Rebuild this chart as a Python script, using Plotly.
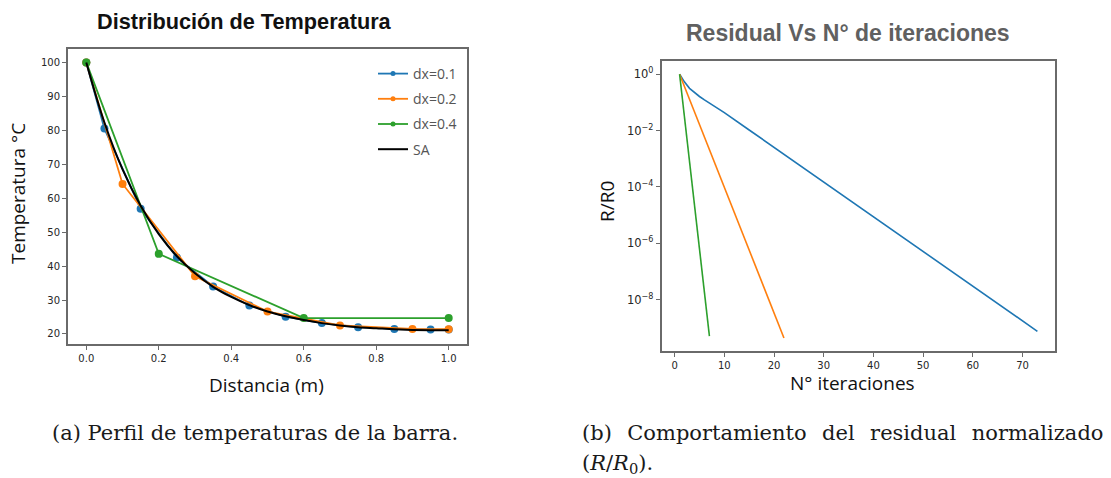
import plotly.graph_objects as go

# ---- Temperature profile along the bar ----
x_dx01 = [0.0, 0.05, 0.15, 0.25, 0.35, 0.45, 0.55, 0.65, 0.75, 0.85, 0.95, 1.0]
T_dx01 = [100.0, 80.5, 56.9, 42.5, 34.0, 28.4, 25.1, 23.2, 22.0, 21.5, 21.3, 21.3]

x_dx02 = [0.0, 0.1, 0.3, 0.5, 0.7, 0.9, 1.0]
T_dx02 = [100.0, 64.2, 37.0, 26.6, 22.5, 21.5, 21.4]

x_dx04 = [0.0, 0.2, 0.6, 1.0]
T_dx04 = [100.0, 43.6, 24.7, 24.7]

x_sa = [0.0, 0.05, 0.1, 0.15, 0.2, 0.25, 0.3, 0.35, 0.4, 0.45, 0.5,
        0.55, 0.6, 0.65, 0.7, 0.75, 0.8, 0.85, 0.9, 0.95, 1.0]
T_sa = [100.0, 82.3, 68.5, 57.8, 49.4, 42.9, 37.9, 33.9, 30.9, 28.5, 26.6,
        25.2, 24.1, 23.2, 22.5, 22.0, 21.7, 21.4, 21.2, 21.1, 21.1]

temp_ticks = [20, 30, 40, 50, 60, 70, 80, 90, 100]
dist_ticks = [0.0, 0.2, 0.4, 0.6, 0.8, 1.0]

# ---- Normalised residual per iteration ----
it_dx01 = [1, 2, 3, 4, 5, 6, 7, 8, 9, 10, 15, 20, 30, 40, 50, 60, 70, 73]
res_dx01 = [1.0, 0.525, 0.316, 0.219, 0.162, 0.123, 0.0955, 0.0741, 0.0575,
            0.0434, 1.047e-2, 2.535e-3, 1.483e-4, 8.67e-6, 5.07e-7,
            2.965e-8, 1.734e-9, 7.41e-10]

it_dx02 = list(range(1, 23))
res_dx02 = [1.0, 0.358, 0.128, 4.59e-2, 1.64e-2, 5.88e-3, 2.10e-3, 7.53e-4,
            2.70e-4, 9.65e-5, 3.46e-5, 1.24e-5, 4.43e-6, 1.59e-6, 5.68e-7,
            2.03e-7, 7.28e-8, 2.61e-8, 9.33e-9, 3.34e-9, 1.20e-9, 4.3e-10]

it_dx04 = [1, 2, 3, 4, 5, 6, 7]
res_dx04 = [1.0, 2.8e-2, 7.9e-4, 2.2e-5, 6.3e-7, 1.8e-8, 5.0e-10]

res_tickvals = [1e0, 1e-2, 1e-4, 1e-6, 1e-8]
res_ticktext = ["10<sup>0</sup>", "10<sup>\u22122</sup>", "10<sup>\u22124</sup>",
                "10<sup>\u22126</sup>", "10<sup>\u22128</sup>"]
iter_ticks = [0, 10, 20, 30, 40, 50, 60, 70]

labels = ["dx=0.1", "dx=0.2", "dx=0.4"]
colors = ["#1f77b4", "#ff7f0e", "#2ca02c"]

W, H = 1111, 478
frame = "#6a6a6a"
tick_font = dict(family="DejaVu Sans", size=10, color="#262626")
label_font = dict(family="Open Sans", size=19, color="#111111")
caption_font = dict(family="DejaVu Serif", size=21, color="#1a1a1a")

fig = go.Figure()

# left panel: numerical profiles and analytic solution
for xs, ys, c in zip([x_dx01, x_dx02, x_dx04], [T_dx01, T_dx02, T_dx04], colors):
    fig.add_trace(go.Scatter(x=xs, y=ys, mode="lines+markers",
                             line=dict(color=c, width=1.8),
                             marker=dict(color=c, size=8),
                             xaxis="x", yaxis="y", showlegend=False))
fig.add_trace(go.Scatter(x=x_sa, y=T_sa, mode="lines",
                         line=dict(color="black", width=2, shape="spline"),
                         xaxis="x", yaxis="y", showlegend=False))

# legend entries (small dots like the line samples)
for name, c in zip(labels, colors):
    fig.add_trace(go.Scatter(x=[None], y=[None], mode="lines+markers", name=name,
                             line=dict(color=c, width=1.8),
                             marker=dict(color=c, size=5),
                             legendgroup=name, xaxis="x", yaxis="y"))
fig.add_trace(go.Scatter(x=[None], y=[None], mode="lines", name="SA",
                         line=dict(color="black", width=2),
                         legendgroup="SA", xaxis="x", yaxis="y"))

# right panel: residual history
for xs, ys, c in zip([it_dx01, it_dx02, it_dx04], [res_dx01, res_dx02, res_dx04], colors):
    fig.add_trace(go.Scatter(x=xs, y=ys, mode="lines",
                             line=dict(color=c, width=1.6),
                             xaxis="x2", yaxis="y2", showlegend=False))

axis_common = dict(showline=True, mirror=True, linecolor=frame, linewidth=2,
                   ticks="outside", ticklen=4, tickwidth=1, tickcolor=frame,
                   showgrid=False, zeroline=False)

fig.update_layout(
    width=W, height=H,
    margin=dict(l=0, r=0, t=0, b=0),
    paper_bgcolor="white", plot_bgcolor="white",
    xaxis=dict(domain=[68 / W, 467 / W], range=[-0.0505, 1.0505],
               tickvals=dist_ticks, ticktext=[f"{v:.1f}" for v in dist_ticks],
               anchor="y", tickfont=tick_font, **axis_common),
    yaxis=dict(domain=[(H - 344) / H, (H - 49) / H], range=[17.05, 103.95],
               tickvals=temp_ticks, anchor="x", tickfont=tick_font, **axis_common),
    xaxis2=dict(domain=[661.7 / W, 1055.3 / W], range=[-2.6, 76.6],
                tickvals=iter_ticks, anchor="y2", tickfont=tick_font, **axis_common),
    yaxis2=dict(domain=[(H - 351) / H, (H - 61) / H], type="log",
                range=[-9.83, 0.47], tickvals=res_tickvals, ticktext=res_ticktext,
                anchor="x2", tickfont=dict(tick_font, size=11.5), **axis_common),
    legend=dict(x=373 / W, y=(H - 58) / H, xanchor="left", yanchor="top",
                bgcolor="rgba(0,0,0,0)", borderwidth=0, tracegroupgap=4,
                font=dict(family="Open Sans", size=14, color="#555555")),
)

gap = "  \u200a"  # widened word gap for the justified caption line
annotations = [
    dict(text="<b>Distribución de Temperatura</b>", x=244, y=22,
         font=dict(family="Liberation Sans", size=21.7, color="#111111")),
    dict(text="<b>Residual Vs N° de iteraciones</b>", x=848, y=33,
         font=dict(family="Liberation Sans", size=23, color="#606060")),
    dict(text="Distancia (m)", x=266, y=385, font=label_font),
    dict(text="Temperatura °C", x=18, y=194, textangle=-90, font=label_font),
    dict(text="N° iteraciones", x=852, y=383, font=label_font),
    dict(text="R/R0", x=607, y=202, textangle=-90, font=label_font),
    dict(text="(a) Perfil de temperaturas de la barra.", x=50, y=433, xanchor="left",
         font=caption_font),
    dict(text=gap.join(["(b)", "Comportamiento", "del", "residual", "normalizado"]),
         x=580, y=433, xanchor="left", font=caption_font),
    dict(text="(<i>R</i>/<i>R</i><sub>0</sub>).", x=580, y=464, xanchor="left",
         font=caption_font),
]
for a in annotations:
    a.setdefault("xanchor", "center")
    fig.add_annotation(xref="paper", yref="paper", x=a.pop("x") / W,
                       y=(H - a.pop("y")) / H, yanchor="middle",
                       showarrow=False, **a)

fig.write_html("out.html")
